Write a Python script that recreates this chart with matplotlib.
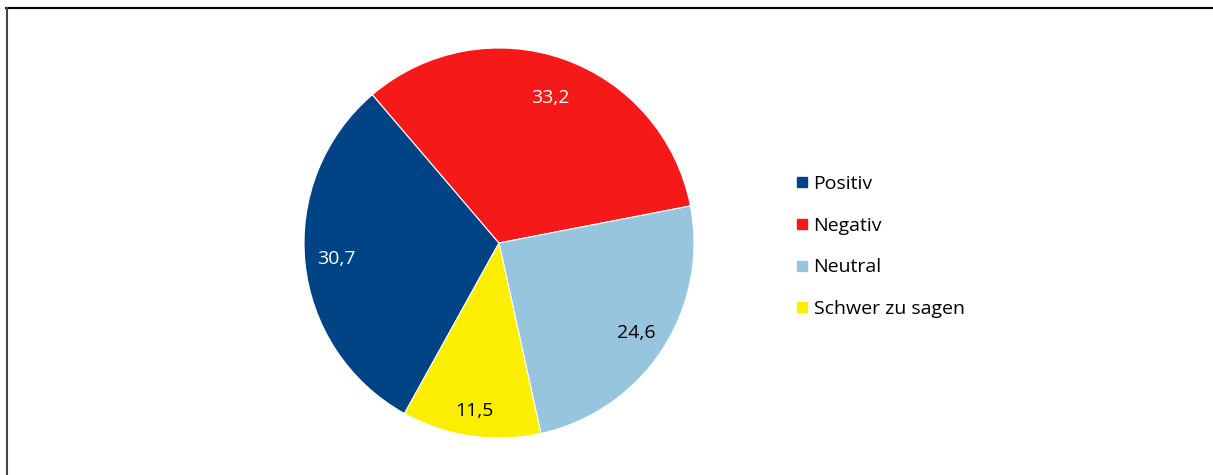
import numpy as np
import matplotlib
matplotlib.use("Agg")
import matplotlib.pyplot as plt
from matplotlib.lines import Line2D

plt.rcParams['font.family'] = ['Open Sans', 'DejaVu Sans']

categories = ["Positiv", "Negativ", "Neutral", "Schwer zu sagen"]
values = [30.7, 33.2, 24.6, 11.5]
labels = ["30,7", "33,2", "24,6", "11,5"]
colors = ["#004485", "#f5191a", "#96c5dd", "#fbee00"]
label_colors = ["white", "white", "black", "black"]
label_dist = [0.84, 0.79, 0.84, 0.87]

W, H = 1213, 475
fig = plt.figure(figsize=(W / 100, H / 100), dpi=100)

# pie centre / radius in pixels
cx, cy, r = 499, 243, 195
ax = fig.add_axes([(cx - r) / W, (H - cy - r) / H, 2 * r / W, 2 * r / H])
wedges, _ = ax.pie(values, colors=colors, startangle=-119, counterclock=False,
                   radius=1, wedgeprops=dict(edgecolor="white", linewidth=0.8))
ax.set_xlim(-1, 1)
ax.set_ylim(-1, 1)
ax.set_aspect("equal")
ax.axis("off")

for w, lab, c, d in zip(wedges, labels, label_colors, label_dist):
    mid = np.deg2rad((w.theta1 + w.theta2) / 2)
    ax.text(d * np.cos(mid), d * np.sin(mid), lab, color=c,
            fontsize=14, ha="center", va="center")

handles = [Line2D([], [], linestyle="none", marker="s", markersize=6.5,
                  markerfacecolor=c, markeredgecolor=c) for c in colors]
fig.legend(handles, categories, loc="center left",
           bbox_to_anchor=(797 / W, (H - 246.5) / H), frameon=False,
           fontsize=14, handlelength=0.55, handletextpad=0.3,
           labelspacing=1.22, borderpad=0, borderaxespad=0)

# frame lines (top and left)
fig.add_artist(Line2D([6 / W, 1], [1 - 8 / H, 1 - 8 / H], color="black", lw=1.5))
fig.add_artist(Line2D([6.5 / W, 6.5 / W], [0, 1 - 8 / H], color="#444444", lw=1.5))

fig.savefig("out.png", dpi=100)
